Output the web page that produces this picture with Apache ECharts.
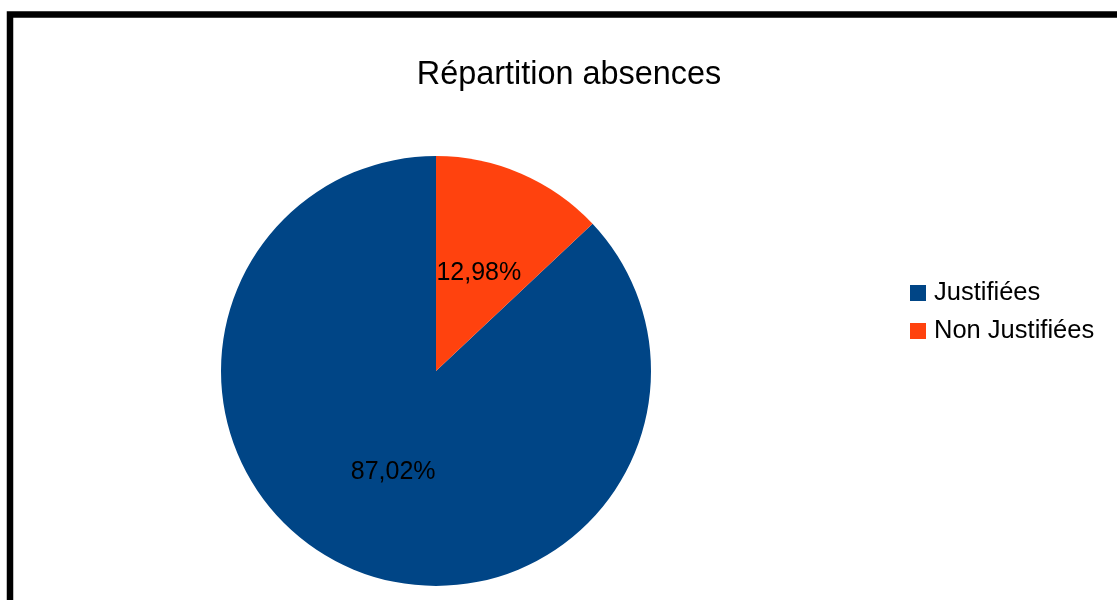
<!DOCTYPE html>
<html>
<head>
<meta charset="utf-8">
<script src="https://cdn.jsdelivr.net/npm/echarts@6/dist/echarts.min.js"></script>
<style>
html,body{margin:0;padding:0;background:#fff;}
#chart{width:1117px;height:600px;}
</style>
</head>
<body>
<div id="chart"></div>
<script>
const titleText = 'Répartition absences';
const categories = ['Justifiées', 'Non Justifiées'];
const values = [87.02, 12.98];
const colors = ['#004586', '#ff420e'];

const chart = echarts.init(document.getElementById('chart'));
const font = 'Liberation Sans';
chart.setOption({
  animation: false,
  backgroundColor: '#ffffff',
  color: colors,
  title: {
    text: titleText,
    left: 564,
    textAlign: 'center',
    top: 54,
    textStyle: { fontFamily: font, fontSize: 32.4, fontWeight: 'normal', color: '#000' }
  },
  legend: {
    orient: 'vertical',
    left: 905,
    top: 275,
    icon: 'rect',
    itemWidth: 16,
    itemHeight: 16,
    itemGap: 12,
    data: categories,
    textStyle: { fontFamily: font, fontSize: 25.5, color: '#000', padding: [0, 0, 0, 3] }
  },
  graphic: [{
    type: 'rect',
    shape: { x: 10, y: 14.5, width: 1300, height: 800 },
    style: { fill: 'none', stroke: '#000', lineWidth: 6.5 },
    silent: true,
    z: 100
  }],
  series: [{
    type: 'pie',
    center: [436, 371],
    radius: 215,
    startAngle: 90,
    clockwise: false,
    label: {
      show: true,
      position: 'inside',
      fontFamily: font,
      fontSize: 25,
      color: '#000',
      formatter: function (p) { return p.value.toFixed(2).replace('.', ',') + '%'; }
    },
    labelLine: { show: false },
    itemStyle: { borderWidth: 0 },
    emphasis: { disabled: true },
    data: categories.map((c, i) => ({
      name: c,
      value: values[i],
      label: i === 1 ? { offset: [-1, 4] } : { offset: [1, 0] }
    }))
  }]
});
</script>
</body>
</html>
